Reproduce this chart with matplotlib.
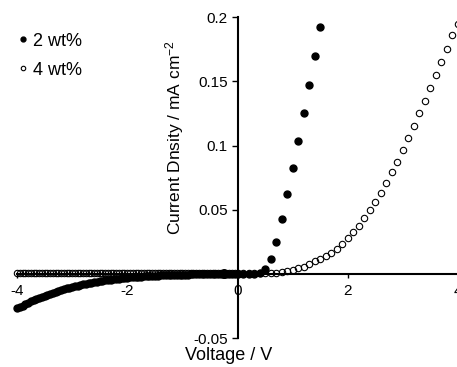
import numpy as np
import matplotlib
matplotlib.use('Agg')
from matplotlib import pyplot as plt

plt.rcParams['font.family'] = ['Liberation Sans', 'DejaVu Sans']
plt.rcParams['mathtext.fontset'] = 'custom'
plt.rcParams['mathtext.rm'] = 'Liberation Sans'
plt.rcParams['mathtext.it'] = 'Liberation Sans'

# voltage sweep grids (V)
v_neg = np.round(np.arange(-4, 0.001, 0.05), 2)      # -4.00 .. 0.00
v_pos_2 = np.round(np.arange(0.1, 1.51, 0.1), 1)     # 0.1 .. 1.5
v_pos_4 = np.round(np.arange(0.1, 4.01, 0.1), 1)     # 0.1 .. 4.0

# 2 wt% current density (mA cm-2)
j2_neg = [-0.0270, -0.0258, -0.0247, -0.0236, -0.0225, -0.0215, -0.0205, -0.0196, -0.0187, -0.0178,
          -0.0170, -0.0162, -0.0154, -0.0147, -0.0140, -0.0133, -0.0126, -0.0120, -0.0114, -0.0108,
          -0.0102, -0.0097, -0.0092, -0.0087, -0.0082, -0.0077, -0.0073, -0.0069, -0.0065, -0.0061,
          -0.0057, -0.0054, -0.0051, -0.0048, -0.0045, -0.0042, -0.0039, -0.0037, -0.0034, -0.0032,
          -0.0030, -0.0028, -0.0026, -0.0024, -0.0022, -0.0021, -0.0019, -0.0018, -0.0016, -0.0015,
          -0.0014, -0.0013, -0.0012, -0.0011, -0.0010, -0.0009, -0.0008, -0.0008, -0.0007, -0.0006,
          -0.0006, -0.0005, -0.0005, -0.0004, -0.0004, -0.0003, -0.0003, -0.0003, -0.0002, -0.0002,
          -0.0002, -0.0002, -0.0001, -0.0001, -0.0001, -0.0001, -0.0001, 0.0, 0.0, 0.0,
          0.0]
j2_pos = [0.0, 0.0, 0.0, 0.0005, 0.0039, 0.0117, 0.0252, 0.0429, 0.0623, 0.0823,
          0.1033, 0.1252, 0.1475, 0.1700, 0.1927]

# 4 wt% current density (mA cm-2)
j4_neg = [0.0003, 0.0003, 0.0003, 0.0003, 0.0003, 0.0003, 0.0003, 0.0003, 0.0003, 0.0003,
          0.0003, 0.0003, 0.0003, 0.0003, 0.0003, 0.0003, 0.0003, 0.0003, 0.0003, 0.0003,
          0.0003, 0.0003, 0.0003, 0.0003, 0.0003, 0.0003, 0.0003, 0.0003, 0.0003, 0.0003,
          0.0003, 0.0003, 0.0003, 0.0003, 0.0003, 0.0003, 0.0003, 0.0003, 0.0003, 0.0003,
          0.0003, 0.0003, 0.0003, 0.0003, 0.0003, 0.0003, 0.0003, 0.0003, 0.0003, 0.0003,
          0.0003, 0.0003, 0.0003, 0.0003, 0.0003, 0.0003, 0.0003, 0.0003, 0.0003, 0.0003,
          0.0003, 0.0003, 0.0003, 0.0003, 0.0003, 0.0003, 0.0003, 0.0003, 0.0003, 0.0003,
          0.0003, 0.0003, 0.0003, 0.0003, 0.0003, 0.0003, 0.0003, 0.0003, 0.0003, 0.0003,
          0.0003]
j4_pos = [0.0003, 0.0003, 0.0003, 0.0003, 0.0003, 0.0004, 0.0006, 0.0011, 0.0020, 0.0031,
          0.0043, 0.0057, 0.0075, 0.0097, 0.0118, 0.0140, 0.0165, 0.0195, 0.0231, 0.0276,
          0.0325, 0.0375, 0.0434, 0.0499, 0.0561, 0.0631, 0.0709, 0.0792, 0.0874, 0.0966,
          0.1060, 0.1156, 0.1251, 0.1350, 0.1448, 0.1553, 0.1652, 0.1752, 0.1860, 0.1950]

labels = ['2 wt%', '4 wt%']
yticks = [-0.05, 0, 0.05, 0.1, 0.15, 0.2]
ytick_labels = ['-0.05', '0', '0.05', '0.1', '0.15', '0.2']
xticks = [-4, -2, 0, 2, 4]
xtick_labels = ['-4', '-2', '0', '2', '4']

W, H = 457, 367
fig = plt.figure(figsize=(W / 100, H / 100), dpi=100)
ax = fig.add_axes([17 / W, 1 - 338 / H, 441 / W, 320.7 / H])

v2 = np.concatenate([v_neg, v_pos_2])
j2 = j2_neg + j2_pos
v4 = np.concatenate([v_neg, v_pos_4])
j4 = j4_neg + j4_pos

ax.plot(v2, j2, 'o', color='black', ms=5, mec='black', clip_on=False, label=labels[0], zorder=3)
ax.plot(v4, j4, 'o', color='black', ms=4.6, mfc='none', mec='black', mew=0.8,
        clip_on=False, label=labels[1], zorder=4)

ax.set_xlim(-4, 4)
ax.set_ylim(-0.05, 0.2)

# axes cross at the origin
ax.spines['left'].set_position(('data', 0))
ax.spines['bottom'].set_position(('data', 0))
ax.spines['top'].set_visible(False)
ax.spines['right'].set_visible(False)
ax.spines['left'].set_linewidth(1.5)
ax.spines['bottom'].set_linewidth(1.5)

ax.set_yticks(yticks)
ax.set_yticklabels(ytick_labels, fontsize=11)
ax.set_xticks(xticks)
ax.set_xticklabels(xtick_labels, fontsize=11)
ax.tick_params(axis='y', direction='out', length=4, width=1, pad=3)
ax.tick_params(axis='x', direction='out', length=3, width=1, pad=4)

fig.text(229 / W, 1 - 356 / H, 'Voltage / V', fontsize=13, ha='center', va='center')
fig.text(175 / W, 1 - 138 / H, r'Current Dnsity / mA cm$^{-2}$', fontsize=12.5,
         rotation=90, ha='center', va='center')

leg = ax.legend(loc='upper left', bbox_to_anchor=(18.5 / W, 1 - 32.5 / H),
                bbox_transform=fig.transFigure, frameon=False, fontsize=13,
                handlelength=0.5, handletextpad=0.3, labelspacing=0.68,
                borderpad=0, borderaxespad=0, markerscale=0.7)

fig.savefig('out.png', dpi=100)
